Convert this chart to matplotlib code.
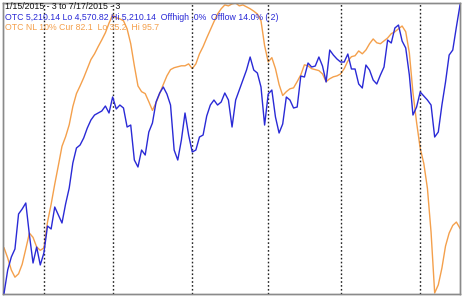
import matplotlib
matplotlib.use("Agg")
import matplotlib.pyplot as plt
import pandas as pd

# trading days 1/15/2015 .. 7/17/2015
holidays = ["2015-01-19", "2015-02-16", "2015-04-03", "2015-05-25", "2015-07-03"]
dates = pd.bdate_range("2015-01-15", "2015-07-17")
dates = dates[~dates.isin(pd.to_datetime(holidays))]

otc = [4570.8, 4621.9, 4650.7, 4668.5, 4746.2, 4757.3, 4770.6, 4699.6, 4637.4, 4672.9,
       4633.0, 4659.6, 4719.5, 4712.9, 4761.7, 4744.0, 4726.2, 4768.4, 4803.9, 4859.4,
       4892.7, 4899.3, 4914.9, 4937.1, 4954.8, 4965.9, 4970.4, 4974.8, 4985.9, 4970.4,
       5005.9, 4979.3, 4988.1, 4981.5, 4939.3, 4943.7, 4866.0, 4850.5, 4888.2, 4877.1,
       4928.2, 4948.2, 4994.8, 5014.8, 5028.1, 5012.6, 4988.1, 4888.2, 4866.0, 4910.4,
       4970.4, 4921.5, 4883.8, 4888.2, 4917.1, 4921.5, 4963.7, 4988.1, 4999.2, 4988.1,
       4994.8, 5014.8, 4999.2, 4939.3, 4999.2, 5021.4, 5043.6, 5065.8, 5094.7, 5065.8,
       5059.2, 5028.1, 4943.7, 5012.6, 5021.4, 4961.5, 4926.0, 4946.0, 5005.9, 4999.2,
       4981.5, 4983.7, 5052.5, 5050.3, 5081.4, 5072.5, 5074.7, 5094.7, 5074.7, 5039.2,
       5110.2, 5099.1, 5090.3, 5083.6, 5083.6, 5101.4, 5068.1, 5068.1, 5034.8, 5025.9,
       5076.9, 5065.8, 5043.6, 5034.8, 5054.7, 5072.5, 5132.4, 5125.8, 5159.1, 5165.7,
       5130.2, 5114.7, 5054.7, 4965.9, 4983.7, 5017.0, 5008.1, 4999.2, 4988.1, 4917.1,
       4928.2, 4988.1, 5039.2, 5099.1, 5110.2, 5161.3, 5210.1]

nl10 = [44.6, 42.5, 40.0, 38.5, 39.2, 41.2, 44.4, 47.7, 46.8, 44.8,
        44.1, 44.6, 50.0, 53.7, 57.9, 61.8, 65.8, 67.8, 70.3, 74.1,
        76.8, 78.4, 80.1, 82.0, 83.9, 85.1, 86.6, 88.0, 89.5, 91.5,
        93.2, 92.6, 92.4, 92.0, 90.3, 87.2, 82.6, 78.4, 77.2, 76.8,
        75.1, 73.3, 74.9, 76.8, 78.7, 80.5, 81.8, 82.2, 82.4, 82.6,
        82.6, 83.0, 82.0, 83.0, 85.1, 86.6, 88.4, 90.1, 91.8, 93.4,
        94.5, 95.3, 95.1, 95.5, 95.7, 95.1, 95.3, 94.9, 94.5, 94.0,
        93.4, 92.0, 86.8, 83.4, 84.3, 82.0, 78.7, 76.4, 77.2, 77.8,
        78.0, 79.3, 80.7, 82.8, 82.6, 82.0, 81.8, 81.6, 80.9, 79.3,
        79.9, 80.3, 80.5, 80.9, 82.0, 83.6, 84.5, 84.7, 85.7, 85.1,
        85.9, 87.2, 88.2, 87.4, 87.2, 87.8, 88.4, 89.3, 89.7, 90.3,
        90.9, 89.7, 85.3, 77.0, 70.8, 65.4, 62.2, 57.0, 47.9, 35.2,
        36.9, 40.4, 45.0, 47.7, 49.3, 50.0, 48.7]

header1 = "1/15/2015 - 3 to 7/17/2015 - 3"
header2 = "OTC 5,210.14 Lo 4,570.82 Hi 5,210.14  Offhigh .0%  Offlow 14.0% ( 2)"
header3 = "OTC NL 10% Cur 82.1  Lo 35.2  Hi 95.7"

BLUE = "#2a2ad6"
ORANGE = "#f4a04c"

W, H = 462, 297
fig = plt.figure(figsize=(W / 100, H / 100), dpi=100)
fig.patch.set_facecolor("white")
ax = fig.add_axes([3 / W, 3 / H, 457 / W, 291 / H])
ax2 = ax.twinx()

idx = list(range(len(dates)))
ax.plot(idx, otc, color=BLUE, lw=1.0, zorder=3)
ax2.plot(idx, nl10, color=ORANGE, lw=1.0, zorder=2)

ax.set_xlim(-0.3, 126.0)
ax.set_ylim(4568.6, 5214.6)
ax2.set_ylim(34.99, 95.7)

# month separators
month = pd.Series(dates.month)
starts = [i for i in range(1, len(dates)) if month[i] != month[i - 1]]
for s in starts:
    ax.axvline(s, color="#222222", lw=1.0, ls=(0, (1.2, 1.6)), zorder=1)

for a in (ax, ax2):
    a.set_xticks([])
    a.set_yticks([])
    for sp in a.spines.values():
        sp.set_color("#8a8a8a")
        sp.set_linewidth(1.0)
ax.set_zorder(ax2.get_zorder() + 1)
ax.patch.set_visible(False)

fam = ["Liberation Sans", "DejaVu Sans"]
fs = 6.3
fig.text(5 / W, 1 - 6.5 / H, header1, color="#111111", fontsize=fs, family=fam, va="center", ha="left")
fig.text(5 / W, 1 - 17 / H, header2, color=BLUE, fontsize=fs, family=fam, va="center", ha="left")
fig.text(5 / W, 1 - 27 / H, header3, color=ORANGE, fontsize=fs, family=fam, va="center", ha="left")

fig.savefig("out.png", dpi=100, facecolor="white")
